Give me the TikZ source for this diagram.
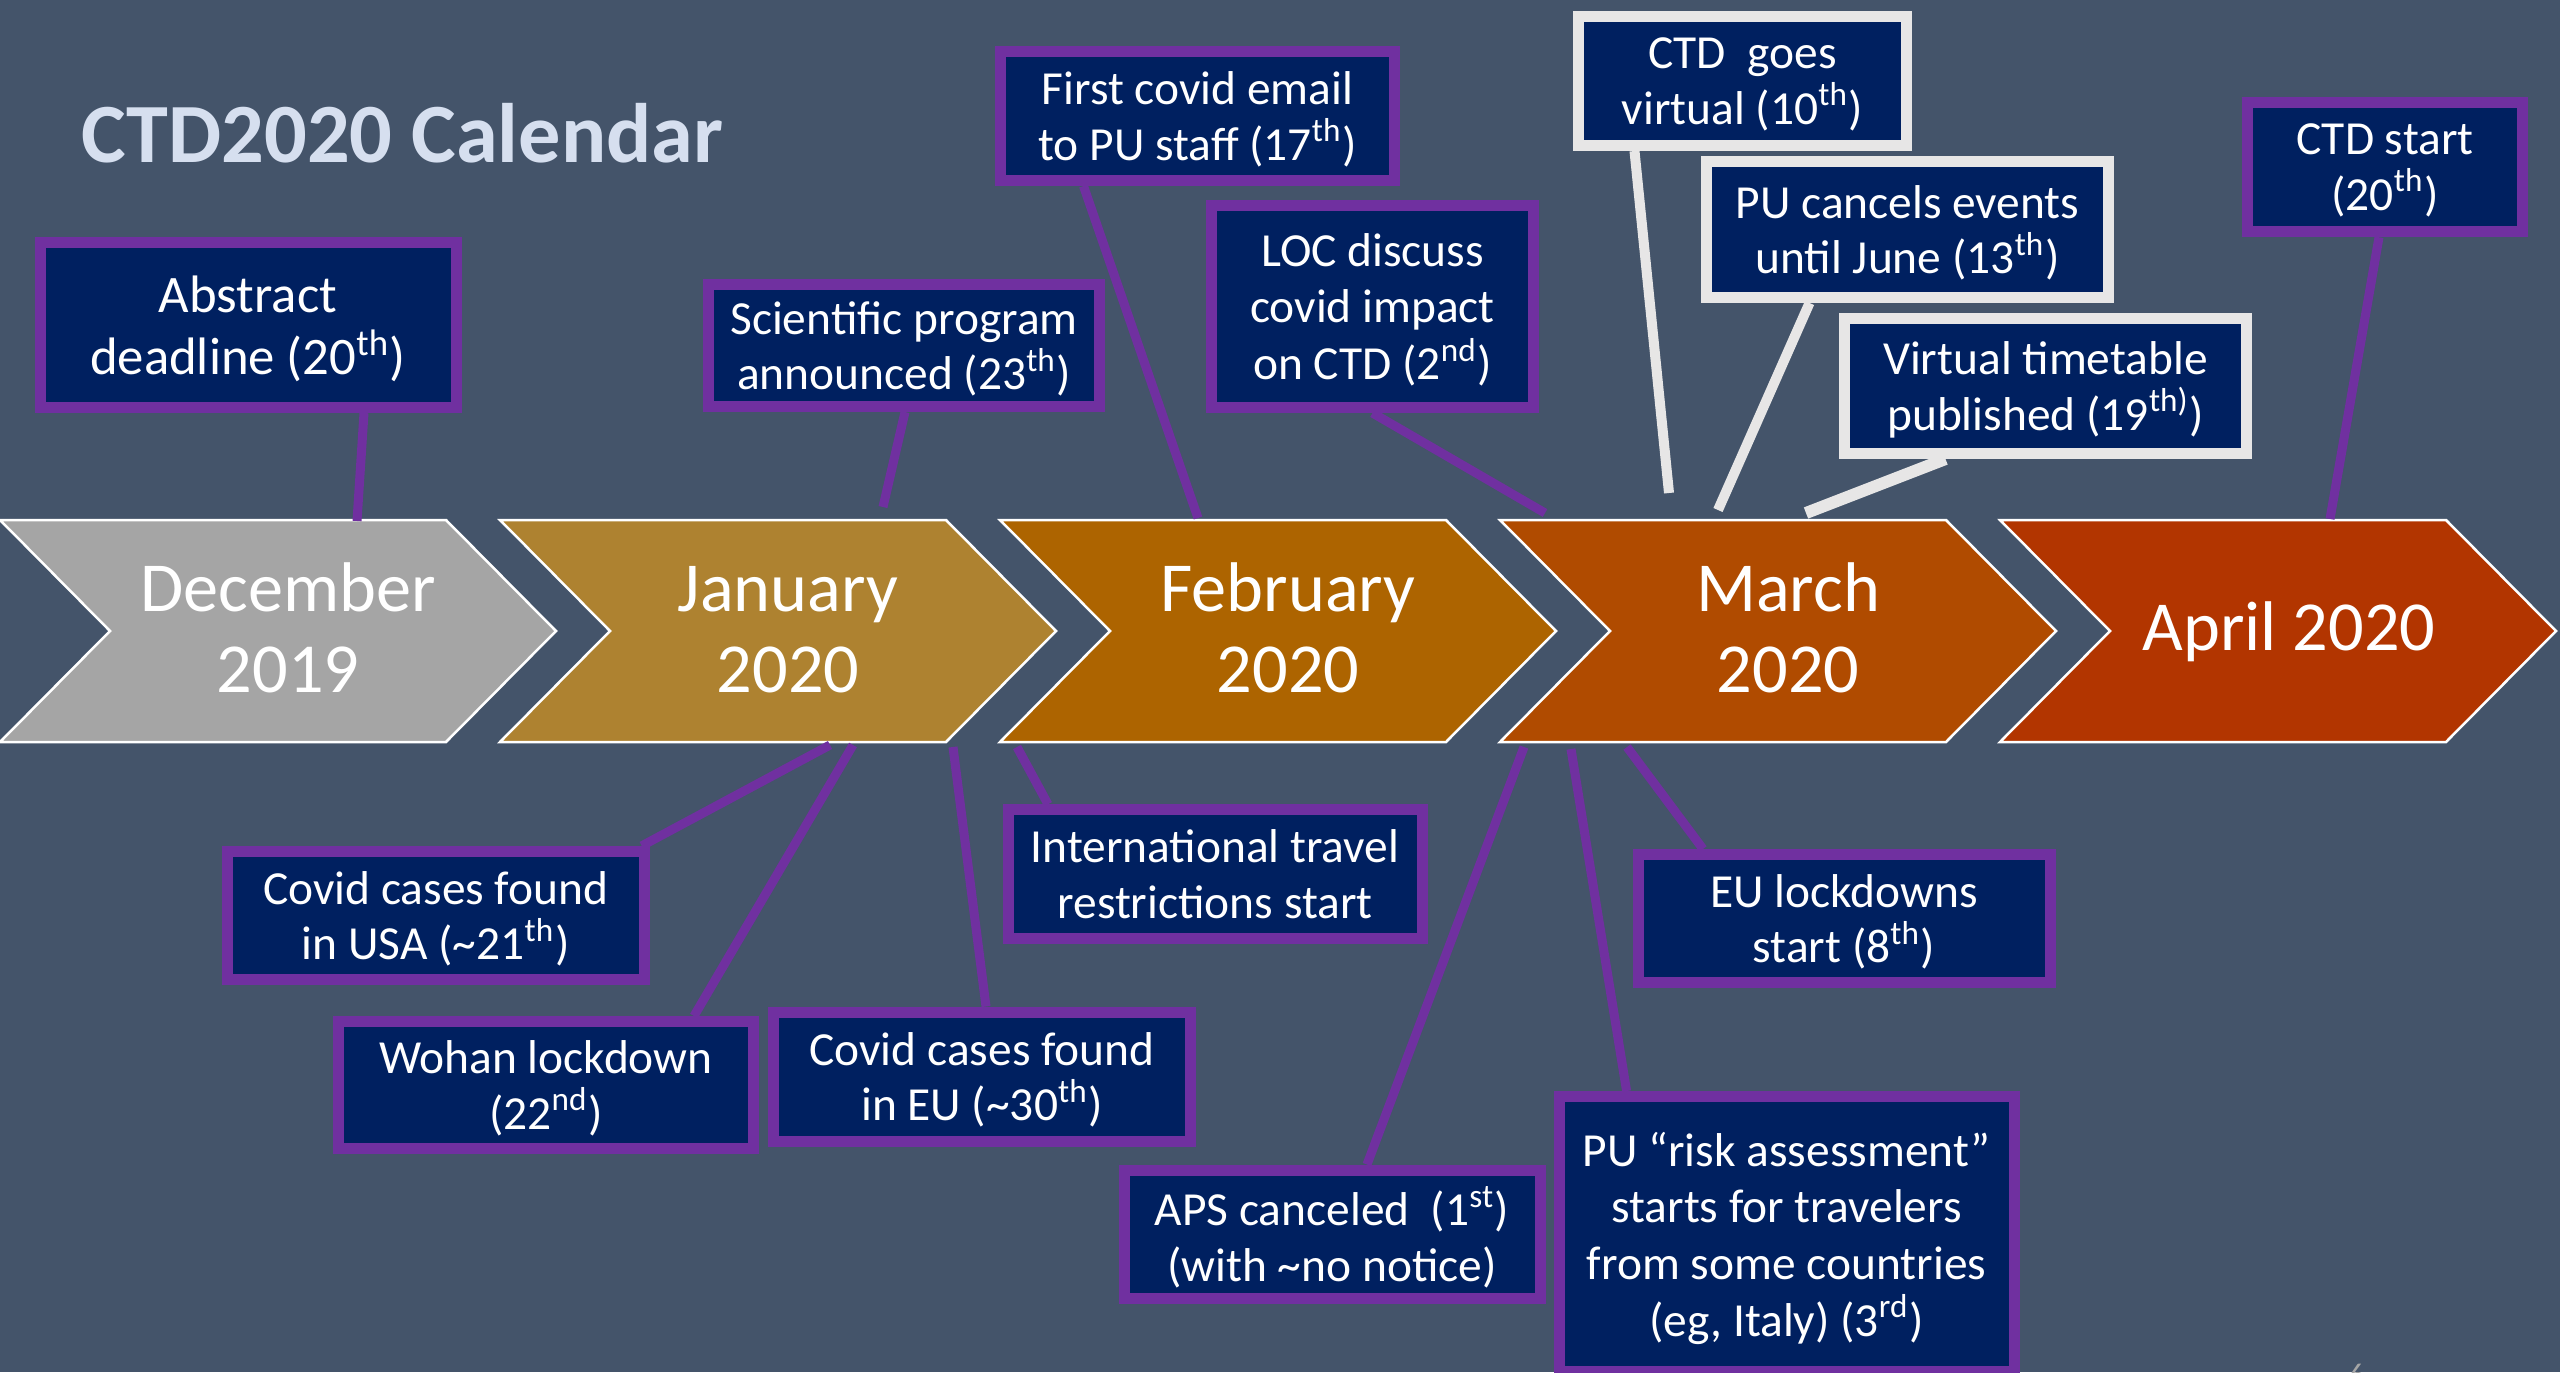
\documentclass[tikz,border=0pt]{standalone}
\usepackage{fontspec}
\setmainfont{Carlito}
\usetikzlibrary{calc}

\definecolor{slidebg}{HTML}{44546A}
\definecolor{titleblue}{HTML}{D6DFEF}
\definecolor{evblue}{HTML}{002060}
\definecolor{evpurple}{HTML}{7030A0}
\definecolor{evgrey}{HTML}{E7E6E6}
\definecolor{decgrey}{HTML}{A5A5A5}
\definecolor{jangold}{HTML}{AE8230}
\definecolor{febbrown}{HTML}{AD6400}
\definecolor{marorange}{HTML}{B04B00}
\definecolor{aprred}{HTML}{B23500}

\tikzstyle{event} = [rectangle, draw=evpurple, fill=evblue, line width=1.1mm, text=white, align=center, inner sep=0pt, text depth=0pt, font=\fontsize{13.5}{15.8}\selectfont]
\tikzstyle{ctdevent} = [event, draw=evgrey]
\tikzstyle{link} = [evpurple, line width=0.9mm]
\tikzstyle{ctdlink} = [evgrey, line width=1mm]
\tikzstyle{month} = [draw=white, line width=0.25mm]
\tikzstyle{monthname} = [text=white, align=center, inner sep=0pt, font=\fontsize{20}{23}\selectfont]

\begin{document}
\begin{tikzpicture}[x=0.1mm, y=-0.1mm]
    \useasboundingbox (0,0) rectangle (2560,1372);
    \fill [slidebg] (0,0) rectangle (2560,1372);

    \node (title) [anchor=base west, inner sep=0pt, text=titleblue, font=\fontsize{24}{29}\selectfont\bfseries] at (81,162) {CTD2020 Calendar};

    % month chevrons
    \foreach \s/\col in {0/decgrey, 500/jangold, 1000/febbrown, 1500/marorange, 2000/aprred}
        \draw [month, fill=\col] (\s,520) -- ++(446,0) -- ++(110,111) -- ++(-110,111) -- ++(-446,0) -- ++(110,-111) -- cycle;

    \node (dec) [monthname, anchor=base] at (288,692) {December\\2019};
    \node (jan) [monthname, anchor=base] at (788,692) {January\\2020};
    \node (feb) [monthname, anchor=base] at (1288,692) {February\\2020};
    \node (mar) [monthname, anchor=base] at (1788,692) {March\\2020};
    \node (apr) [monthname, anchor=base] at (2289,650) {April 2020};

    % where the links meet the chevrons
    \coordinate (abstract-end) at (357,521);
    \coordinate (sciprog-end) at (883,507);
    \coordinate (firstmail-end) at (1198,518);
    \coordinate (loc-end) at (1545,513);
    \coordinate (virtual-end) at (1669,493);
    \coordinate (cancels-end) at (1718,510);
    \coordinate (timetable-end) at (1806,513);
    \coordinate (ctdstart-end) at (2330,519);
    \coordinate (usa-end) at (830,745);
    \coordinate (wohan-end) at (853,745);
    \coordinate (travel-end) at (1017,747);
    \coordinate (eucases-end) at (953,747);
    \coordinate (eulock-end) at (1627,747);
    \coordinate (aps-end) at (1524,747);
    \coordinate (risk-end) at (1571,749);

    % events above the months
    \node (abstract) [event, font=\fontsize{15}{17.6}\selectfont, minimum width=41.6mm, minimum height=16.5mm] at (248,325) {Abstract\\deadline (20\textsuperscript{th})};
    \node (sciprog) [event, minimum width=39.1mm, minimum height=12.2mm] at (904,345.5) {Scientific program\\announced (23\textsuperscript{th})};
    \node (firstmail) [event, minimum width=39.4mm, minimum height=12.9mm] at (1197.5,116) {First covid email\\to PU staff (17\textsuperscript{th})};
    \node (loc) [event, font=\fontsize{13.5}{16.1}\selectfont, minimum width=32.2mm, minimum height=20.2mm] at (1372.5,306.5) {LOC discuss\\covid impact\\on CTD (2\textsuperscript{nd})};
    \node (virtual) [ctdevent, minimum width=32.8mm, minimum height=12.9mm] at (1742.5,81) {CTD\ \ goes\\virtual (10\textsuperscript{th})};
    \node (cancels) [ctdevent, minimum width=40.2mm, minimum height=13.6mm] at (1907.5,229.5) {PU cancels events\\until June (13\textsuperscript{th})};
    \node (timetable) [ctdevent, minimum width=40.2mm, minimum height=13.5mm] at (2045.5,386) {Virtual timetable\\published (19\textsuperscript{th)})};
    \node (ctdstart) [event, minimum width=27.5mm, minimum height=12.95mm] at (2385,167) {CTD start\\(20\textsuperscript{th})};

    % events below the months
    \node (usa) [event, minimum width=41.7mm, minimum height=12.8mm] at (435.7,915.4) {Covid cases found\\in USA (\textasciitilde21\textsuperscript{th})};
    \node (wohan) [event, minimum width=41.5mm, minimum height=12.7mm] at (546,1085) {Wohan lockdown\\(22\textsuperscript{nd})};
    \node (travel) [event, minimum width=41.4mm, minimum height=12.85mm] at (1215,874) {International travel\\restrictions start};
    \node (eucases) [event, minimum width=41.7mm, minimum height=12.9mm] at (982,1076.5) {Covid cases found\\in EU (\textasciitilde30\textsuperscript{th})};
    \node (eulock) [event, minimum width=41.2mm, minimum height=12.8mm] at (1844,918.5) {EU lockdowns\\start (8\textsuperscript{th})};
    \node (aps) [event, minimum width=41.6mm, minimum height=12.8mm] at (1332,1234) {APS canceled\ \ (1\textsuperscript{st})\\(with \textasciitilde no notice)};
    \node (risk) [event, font=\fontsize{13.5}{16.1}\selectfont, minimum width=45.5mm, minimum height=27.5mm] at (1786.6,1234) {PU “risk assessment”\\starts for travelers\\from some countries\\(eg, Italy) (3\textsuperscript{rd})};

    \draw [link] ($(abstract.south)+(116,0)$) -- (abstract-end);
    \draw [link] ($(sciprog.south)+(1,0)$) -- (sciprog-end);
    \draw [link] ($(firstmail.south)+(-114,0)$) -- (firstmail-end);
    \draw [link] (loc.south) -- (loc-end);
    \draw [ctdlink] ($(virtual.south)+(-108,0)$) -- (virtual-end);
    \draw [ctdlink] ($(cancels.south)+(-98,0)$) -- (cancels-end);
    \draw [ctdlink, line width=1.2mm] ($(timetable.south)+(-100,0)$) -- (timetable-end);
    \draw [link] ($(ctdstart.south)+(-6,0)$) -- (ctdstart-end);

    \draw [link] ($(usa.north east)+(-8,0)$) -- (usa-end);
    \draw [link] ($(wohan.north)+(148,0)$) -- (wohan-end);
    \draw [link] ($(travel.north)+(-167,0)$) -- (travel-end);
    \draw [link] ($(eucases.north)+(4,0)$) -- (eucases-end);
    \draw [link] ($(eulock.north)+(-141,0)$) -- (eulock-end);
    \draw [link] ($(aps.north)+(35,0)$) -- (aps-end);
    \draw [link] ($(risk.north)+(-160,0)$) -- (risk-end);

    \node (pagenum) [anchor=north west, inner sep=0pt, text=gray!70, font=\fontsize{9}{11}\selectfont] at (2348,1363) {6};
\end{tikzpicture}
\end{document}
